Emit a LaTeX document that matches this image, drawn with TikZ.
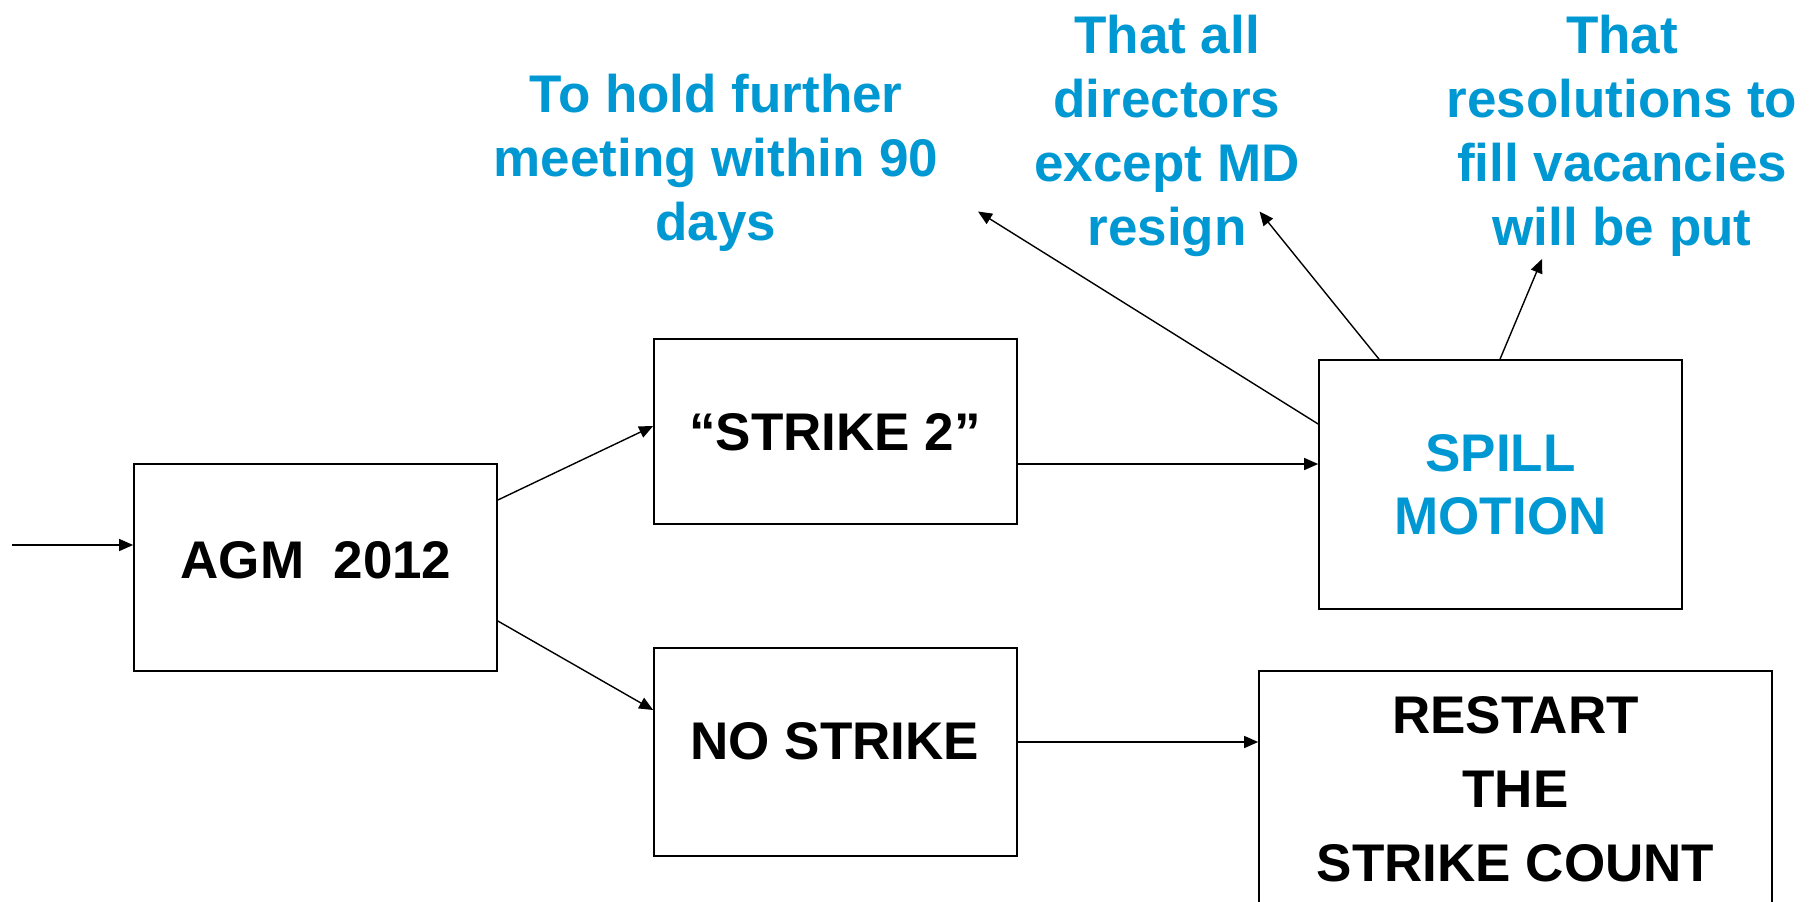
\documentclass[tikz,border=0pt]{standalone}
\usepackage{fontspec}
\setmainfont{Liberation Sans}
\usetikzlibrary{arrows.meta,calc}
\definecolor{capblue}{RGB}{0,152,210}
\tikzset{
  box/.style={draw=black, line width=0.85pt, rectangle, inner sep=0pt, fill=none},
  txt/.style={inner sep=0pt, font=\bfseries\fontsize{26.5}{32}\selectfont, text=black, align=center},
  bluetxt/.style={txt, text=capblue},
  conn/.style={line width=0.7pt, -{Triangle[length=7pt,width=6pt]}}
}
\begin{document}
\begin{tikzpicture}[x=0.5pt,y=-0.5pt]
\useasboundingbox (0,0) rectangle (1814,901);
\clip (0,0) rectangle (1814,901);
% boxes
\node[box, minimum width=181.5pt, minimum height=103.5pt] (agm) at (315.5,567.5) {};
\node[box, minimum width=181.5pt, minimum height=92.5pt] (strike) at (835.5,431.5) {};
\node[box, minimum width=181.5pt, minimum height=104pt] (nostrike) at (835.5,752) {};
\node[box, minimum width=181.5pt, minimum height=124.5pt] (spill) at (1500.5,484.5) {};
\node[box, minimum width=256.5pt, minimum height=150pt] (restart) at (1515.5,821) {};
% box texts
\node[txt, anchor=base] (agmt) at (316,578) {AGM\ \ 2012};
\node[txt, anchor=base] (striket) at (835,450.5) {“STRIKE 2”};
\node[txt, anchor=base] (nostriket) at (835,759.5) {NO STRIKE};
\node[bluetxt, anchor=north, font=\bfseries\fontsize{26.5}{31.25}\selectfont] (spillt) at (1500.5,434.5) {SPILL\\MOTION};
\node[txt, anchor=north, font=\bfseries\fontsize{26.5}{37}\selectfont] (restartt) at (1515.5,696) {RESTART\\THE\\STRIKE COUNT};
% blue outcome texts
\node[bluetxt, anchor=north] (hold) at (716,73.5) {To hold further\\meeting within 90\\days};
\node[bluetxt, anchor=north] (resign) at (1167,15) {That all\\directors\\except MD\\resign};
\node[bluetxt, anchor=north] (resol) at (1622,15) {That\\resolutions to\\fill vacancies\\will be put};
% free ends
\coordinate (in) at (12,545);
\coordinate (holdtip) at (978,211.5);
\coordinate (resigntip) at (1259.5,211.5);
\coordinate (resoltip) at (1542,259);
% connectors
\draw[conn] (in) -- (agm.west |- in);
\draw[conn] ($(agm.east)+(0,-67.5)$) -- ($(strike.west)+(0,-5.5)$);
\draw[conn] ($(agm.east)+(0,53.5)$) -- ($(nostrike.west)+(0,-42)$);
\draw[conn] (strike.east |- 0,464) -- (spill.west |- 0,464);
\draw[conn] (nostrike.east |- 0,742) -- (restart.west |- 0,742);
\draw[conn] ($(spill.west)+(0,-60.5)$) -- (holdtip);
\draw[conn] (spill.north west -| 1379,0) -- (resigntip);
\draw[conn] (spill.north west -| 1500,0) -- (resoltip);
\end{tikzpicture}
\end{document}
